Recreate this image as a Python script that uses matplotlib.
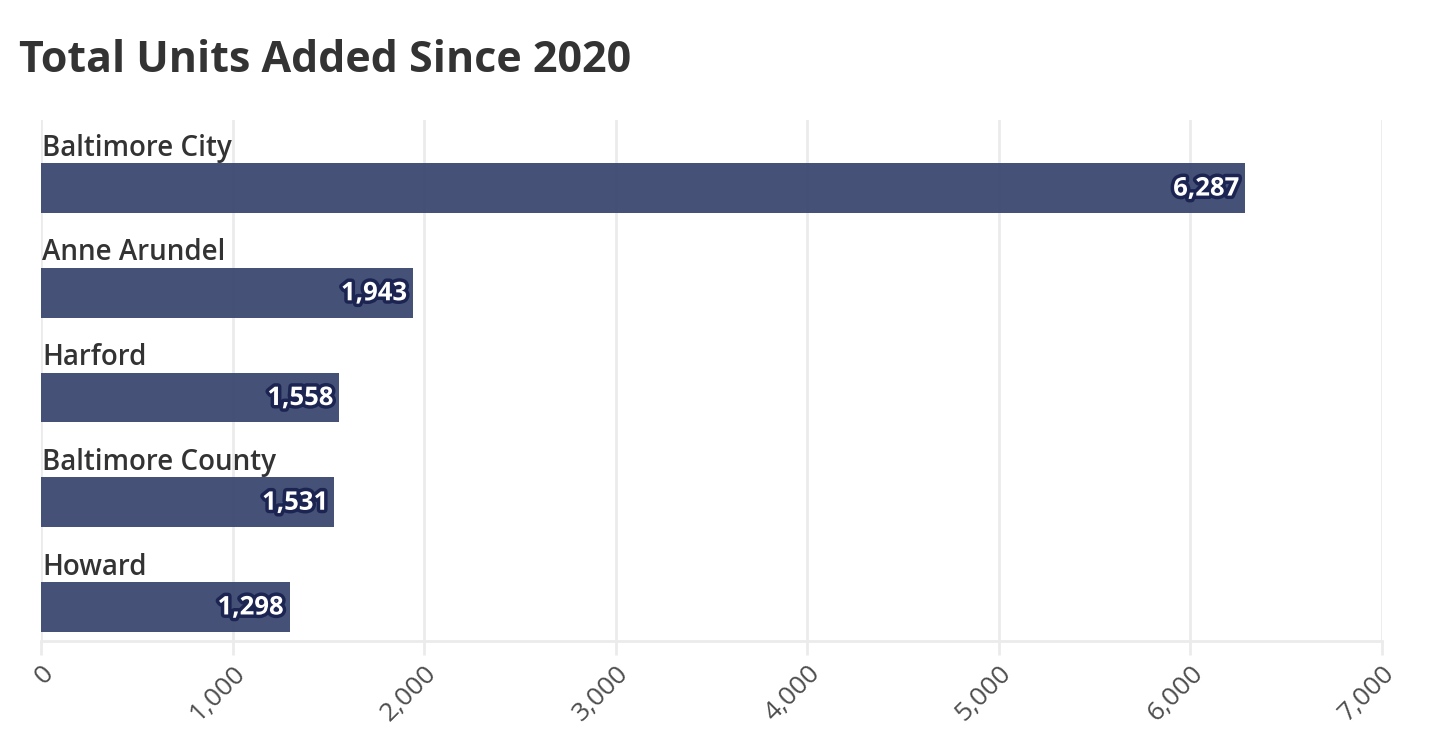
import matplotlib.pyplot as plt
import matplotlib.patheffects as pe
from matplotlib.ticker import FuncFormatter

counties = ["Baltimore City", "Anne Arundel", "Harford", "Baltimore County", "Howard"]
units = [6287, 1943, 1558, 1531, 1298]
x_ticks = [0, 1000, 2000, 3000, 4000, 5000, 6000, 7000]

plt.rcParams["font.family"] = ["Open Sans", "DejaVu Sans"]

fig = plt.figure(figsize=(14.3, 7.5), dpi=100)
ax = fig.add_axes([41 / 1430, 1 - 641 / 750, (1382 - 41) / 1430, (641 - 120) / 750])

n = len(counties)
pos = [n - 1 - i for i in range(n)]
bar_color = "#3b4870"

ax.barh(pos, units, height=0.477, color=bar_color, alpha=0.95, zorder=3)

for p, name, val in zip(pos, counties, units):
    ax.text(6, p + 0.38, name, ha="left", va="center", fontsize=20,
            fontweight="semibold", color="#333333", zorder=4)
    ax.text(val - 30, p, f"{val:,}", ha="right", va="center", fontsize=18.5,
            fontweight="bold", color="white", zorder=5,
            path_effects=[pe.withStroke(linewidth=5, foreground="#1c2552")])

ax.set_xlim(0, 7000)
ax.set_ylim(-0.325, 4.65)
ax.set_xticks(x_ticks)
ax.xaxis.set_major_formatter(FuncFormatter(lambda v, _: f"{int(v):,}"))
ax.set_yticks([])
ax.grid(axis="x", color="#ebebeb", linewidth=2, zorder=0)
for s in ["top", "right", "left"]:
    ax.spines[s].set_visible(False)
ax.spines["bottom"].set_color("#ebebeb")
ax.spines["bottom"].set_linewidth(2)
ax.tick_params(axis="x", length=10, width=2, color="#ebebeb", pad=4,
               labelsize=19, labelcolor="#4d4d4d")
for lbl in ax.get_xticklabels():
    lbl.set_rotation(45)
    lbl.set_ha("right")
    lbl.set_va("top")
    lbl.set_rotation_mode("anchor")

fig.text(19 / 1430, 1 - 60 / 750, "Total Units Added Since 2020", ha="left",
         va="center", fontsize=31, fontweight="bold", color="#333333")

fig.savefig("out.png", dpi=100, facecolor="white")
